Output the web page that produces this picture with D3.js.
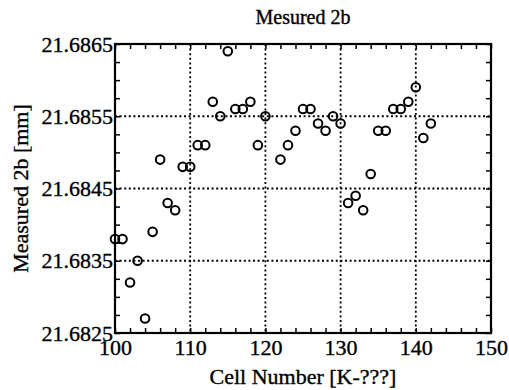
<!DOCTYPE html>
<html>
<head>
<meta charset="utf-8">
<script src="https://cdn.jsdelivr.net/npm/d3@7"></script>
<style>
  body { margin: 0; background: #fff; }
  text { font-family: 'Liberation Serif', 'Times New Roman', serif; fill: #000; stroke: #000; stroke-width: 0.35px; }
</style>
</head>
<body>
<svg id="chart" width="509" height="390"></svg>
<script>
  var cellNumbers = [100, 101, 102, 103, 104, 105, 106, 107, 108, 109, 110,
    111, 112, 113, 114, 115, 116, 117, 118, 119, 120, 122, 123, 124, 125,
    126, 127, 128, 129, 130, 131, 132, 133, 134, 135, 136, 137, 138, 139,
    140, 141, 142]
  var measured2b = [21.6838, 21.6838, 21.6832, 21.6835, 21.6827, 21.6839,
    21.6849, 21.6843, 21.6842, 21.6848, 21.6848, 21.6851, 21.6851, 21.6857,
    21.6855, 21.6864, 21.6856, 21.6856, 21.6857, 21.6851, 21.6855, 21.6849,
    21.6851, 21.6853, 21.6856, 21.6856, 21.6854, 21.6853, 21.6855, 21.6854,
    21.6843, 21.6844, 21.6842, 21.6847, 21.6853, 21.6853, 21.6856, 21.6856,
    21.6857, 21.6859, 21.6852, 21.6854]
  var xDomain = [100, 150]
  var yDomain = [21.6825, 21.6865]
  var xGrid = [110, 120, 130, 140]
  var yGrid = [21.6835, 21.6845, 21.6855]

  var margin = { top: 44, right: 18, bottom: 57, left: 115 }
  var svg = d3.select('#chart')
  var width = +svg.attr('width') - margin.left - margin.right
  var height = +svg.attr('height') - margin.top - margin.bottom

  var x = d3.scaleLinear().domain(xDomain).range([0, width])
  var y = d3.scaleLinear().domain(yDomain).range([height, 0])

  var g = svg.append('g')
    .attr('transform', 'translate(' + margin.left + ',' + margin.top + ')')

  // dotted grid
  g.selectAll('.vgrid').data(xGrid).enter().append('line')
    .attr('x1', function (d) { return x(d) })
    .attr('x2', function (d) { return x(d) })
    .attr('y1', 0).attr('y2', height)
    .style('stroke', '#000').style('stroke-width', 1.8)
    .style('stroke-dasharray', '2,2.6')
  g.selectAll('.hgrid').data(yGrid).enter().append('line')
    .attr('y1', function (d) { return y(d) })
    .attr('y2', function (d) { return y(d) })
    .attr('x1', 0).attr('x2', width)
    .style('stroke', '#000').style('stroke-width', 1.8)
    .style('stroke-dasharray', '2,2.6')

  var xTicks = d3.range(xDomain[0], xDomain[1] + 1, 2)
  var yTicks = d3.range(17).map(function (i) { return yDomain[0] + i * 0.00025 })

  function styleAxis (sel) {
    sel.select('.domain').remove()
    sel.selectAll('.tick line').style('stroke', '#000').style('stroke-width', 1.5)
    sel.selectAll('text').style('font-size', '22px').style('font-family', "'Liberation Serif', serif")
  }

  g.append('g')
    .attr('transform', 'translate(0,' + height + ')')
    .call(d3.axisBottom(x).tickValues(xTicks).tickSize(-5).tickPadding(6)
      .tickFormat(function (d) { return d % 10 === 0 ? d : '' }))
    .call(styleAxis)
  g.append('g')
    .call(d3.axisTop(x).tickValues(xTicks).tickSize(-5).tickFormat(''))
    .call(styleAxis)
  g.append('g')
    .call(d3.axisLeft(y).tickValues(yTicks).tickSize(-5).tickPadding(2)
      .tickFormat(function (d, i) { return i % 4 === 0 ? d3.format('.4f')(d) : '' }))
    .call(styleAxis)
  g.append('g')
    .attr('transform', 'translate(' + width + ',0)')
    .call(d3.axisRight(y).tickValues(yTicks).tickSize(-5).tickFormat(''))
    .call(styleAxis)

  // frame
  g.append('rect')
    .attr('width', width).attr('height', height)
    .style('fill', 'none').style('stroke', '#000').style('stroke-width', 2.2)

  // points
  g.selectAll('.pt').data(cellNumbers).enter().append('circle')
    .attr('cx', function (d) { return x(d) })
    .attr('cy', function (d, i) { return y(measured2b[i]) })
    .attr('r', 4.3)
    .style('fill', 'none').style('stroke', '#000').style('stroke-width', 2)

  svg.append('text')
    .attr('x', margin.left + width / 2).attr('y', 24)
    .attr('text-anchor', 'middle').style('font-size', '20px')
    .text('Mesured 2b')
  svg.append('text')
    .attr('x', margin.left + width / 2).attr('y', 384)
    .attr('text-anchor', 'middle').style('font-size', '22px')
    .text('Cell Number [K-???]')
  svg.append('text')
    .attr('transform', 'translate(28,' + (margin.top + height / 2) + ') rotate(-90)')
    .attr('text-anchor', 'middle').style('font-size', '22px')
    .text('Measured 2b [mm]')
</script>
</body>
</html>
